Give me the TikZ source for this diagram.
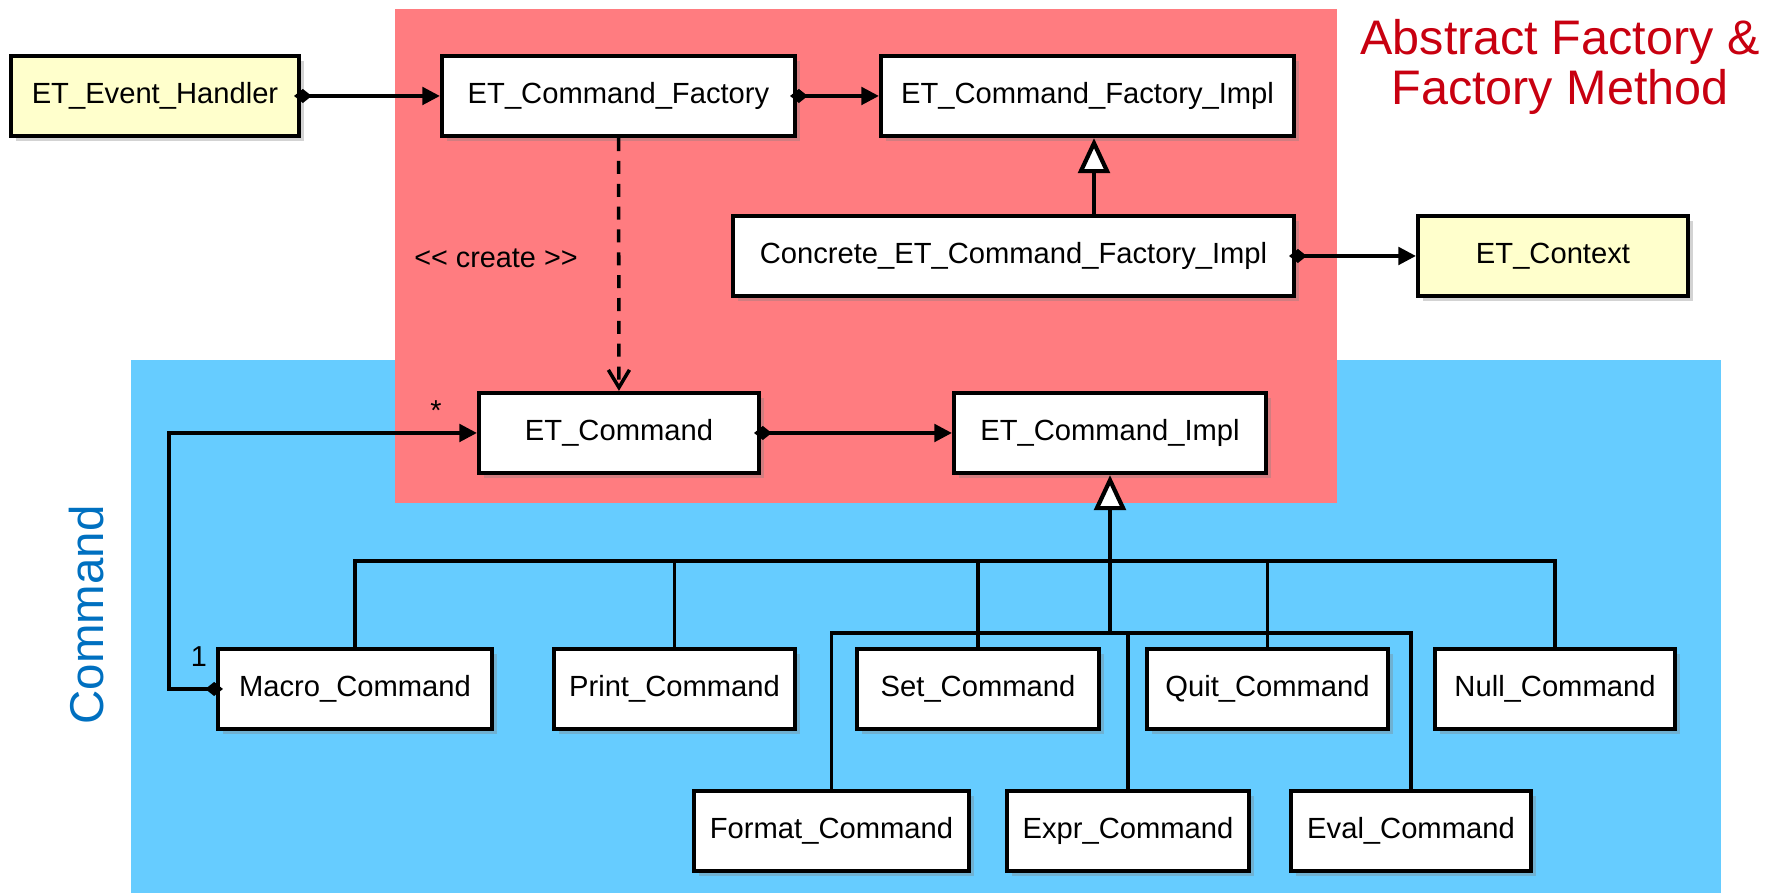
\documentclass[tikz,border=0pt]{standalone}
\usepackage{xcolor}
\usepackage{tikz}
\usepackage{fontspec}
\setmainfont{Liberation Sans}
\usetikzlibrary{arrows.meta,shadows}

\definecolor{factred}{RGB}{255,124,128}
\definecolor{cmdblue}{RGB}{102,204,255}
\definecolor{notecream}{RGB}{255,255,204}
\definecolor{titlered}{RGB}{200,0,16}
\definecolor{labelblue}{RGB}{0,112,192}

\begin{document}
\begin{tikzpicture}[cls/.style={draw,rectangle,line width=1.2pt,fill=white,minimum height=0.8cm,font=\fontsize{8.3}{10}\selectfont,drop shadow={opacity=0.35,shadow xshift=0.05cm,shadow yshift=-0.05cm}},
    assoc/.style={line width=1pt,shorten <=-2pt,{Diamond[length=5pt,width=4pt]}-{Triangle[length=5pt,width=5pt]}},
    inherit/.style={line width=1pt,-{Triangle[length=10pt,width=9pt,fill=white,line width=1.2pt]}},
    create/.style={line width=1pt,dash pattern=on 3.7pt off 2.8pt,-{Straight Barb[length=5pt,width=6pt]}},
    tree/.style={line width=1pt},
    lbl/.style={font=\fontsize{8.2}{10}\selectfont}]
            \useasboundingbox (0,0) rectangle (17.69,8.93);
            \fill[cmdblue] (1.31,0) rectangle (17.21,5.33);
            \fill[factred] (3.95,3.90) rectangle (13.37,8.84);

            \node[font=\fontsize{13.8}{14.5}\selectfont,text=titlered,align=center] (title) at (15.6,8.26) {Abstract Factory \&\\ Factory Method};
            \node[font=\fontsize{13.5}{15}\selectfont,text=labelblue,rotate=90] (cmdlabel) at (0.87,2.78) {Command};

            \node[cls,fill=notecream,minimum width=2.88cm] (evh) at (1.55,7.97) {ET\_Event\_Handler};
            \node[cls,minimum width=3.53cm] (fac) at (6.185,7.97) {ET\_Command\_Factory};
            \node[cls,minimum width=4.13cm] (facimpl) at (10.875,7.97) {ET\_Command\_Factory\_Impl};
            \node[cls,minimum width=5.61cm] (concrete) at (10.135,6.37) {Concrete\_ET\_Command\_Factory\_Impl};
            \node[cls,fill=notecream,minimum width=2.70cm] (ctx) at (15.53,6.37) {ET\_Context};
            \node[cls,minimum width=2.80cm] (cmd) at (6.19,4.60) {ET\_Command};
            \node[cls,minimum width=3.12cm] (cmdimpl) at (11.10,4.60) {ET\_Command\_Impl};

            \node[cls,minimum width=2.74cm] (macro) at (3.55,2.04) {Macro\_Command};
            \node[cls,minimum width=2.41cm] (print) at (6.745,2.04) {Print\_Command};
            \node[cls,minimum width=2.42cm] (set) at (9.78,2.04) {Set\_Command};
            \node[cls,minimum width=2.41cm] (quit) at (12.675,2.04) {Quit\_Command};
            \node[cls,minimum width=2.40cm] (null) at (15.55,2.04) {Null\_Command};
            \node[cls,minimum width=2.75cm] (format) at (8.315,0.62) {Format\_Command};
            \node[cls,minimum width=2.42cm] (expr) at (11.28,0.62) {Expr\_Command};
            \node[cls,minimum width=2.40cm] (eval) at (14.11,0.62) {Eval\_Command};

            \coordinate (busa) at (0,3.32);
            \coordinate (busb) at (0,2.60);
            \coordinate (gen) at (10.94,0);

            % associations
            \draw[assoc] (evh) -- (fac);
            \draw[assoc] (fac) -- (facimpl);
            \draw[assoc] (concrete) -- (ctx);
            \draw[assoc] (cmd) -- (cmdimpl);
            \draw[assoc] (macro.west) -- ++(-0.47,0) |- (cmd.west);
            \node[lbl] (many) at (4.36,4.82) {*};
            \node[lbl] (one) at (1.99,2.36) {1};

            \draw[create] (fac) -- (cmd);
            \node[lbl] (createlbl) at (4.96,6.35) {<{}< create >{}>};

            \draw[inherit] (concrete.north -| gen) -- (facimpl.south -| gen);

            % command hierarchy
            \draw[inherit] (cmdimpl.south |- busb) -- (cmdimpl.south);
            \draw[tree] (macro.north) -- (macro.north |- busa) -- (null.north |- busa) -- (null.north);
            \foreach \c in {print,set,quit}
              \draw[tree] (\c.north) -- (\c.north |- busa);
            \draw[tree] (format.north) -- (format.north |- busb) -- (eval.north |- busb) -- (eval.north);
            \draw[tree] (expr.north) -- (expr.north |- busb);
        \end{tikzpicture}
\end{document}
